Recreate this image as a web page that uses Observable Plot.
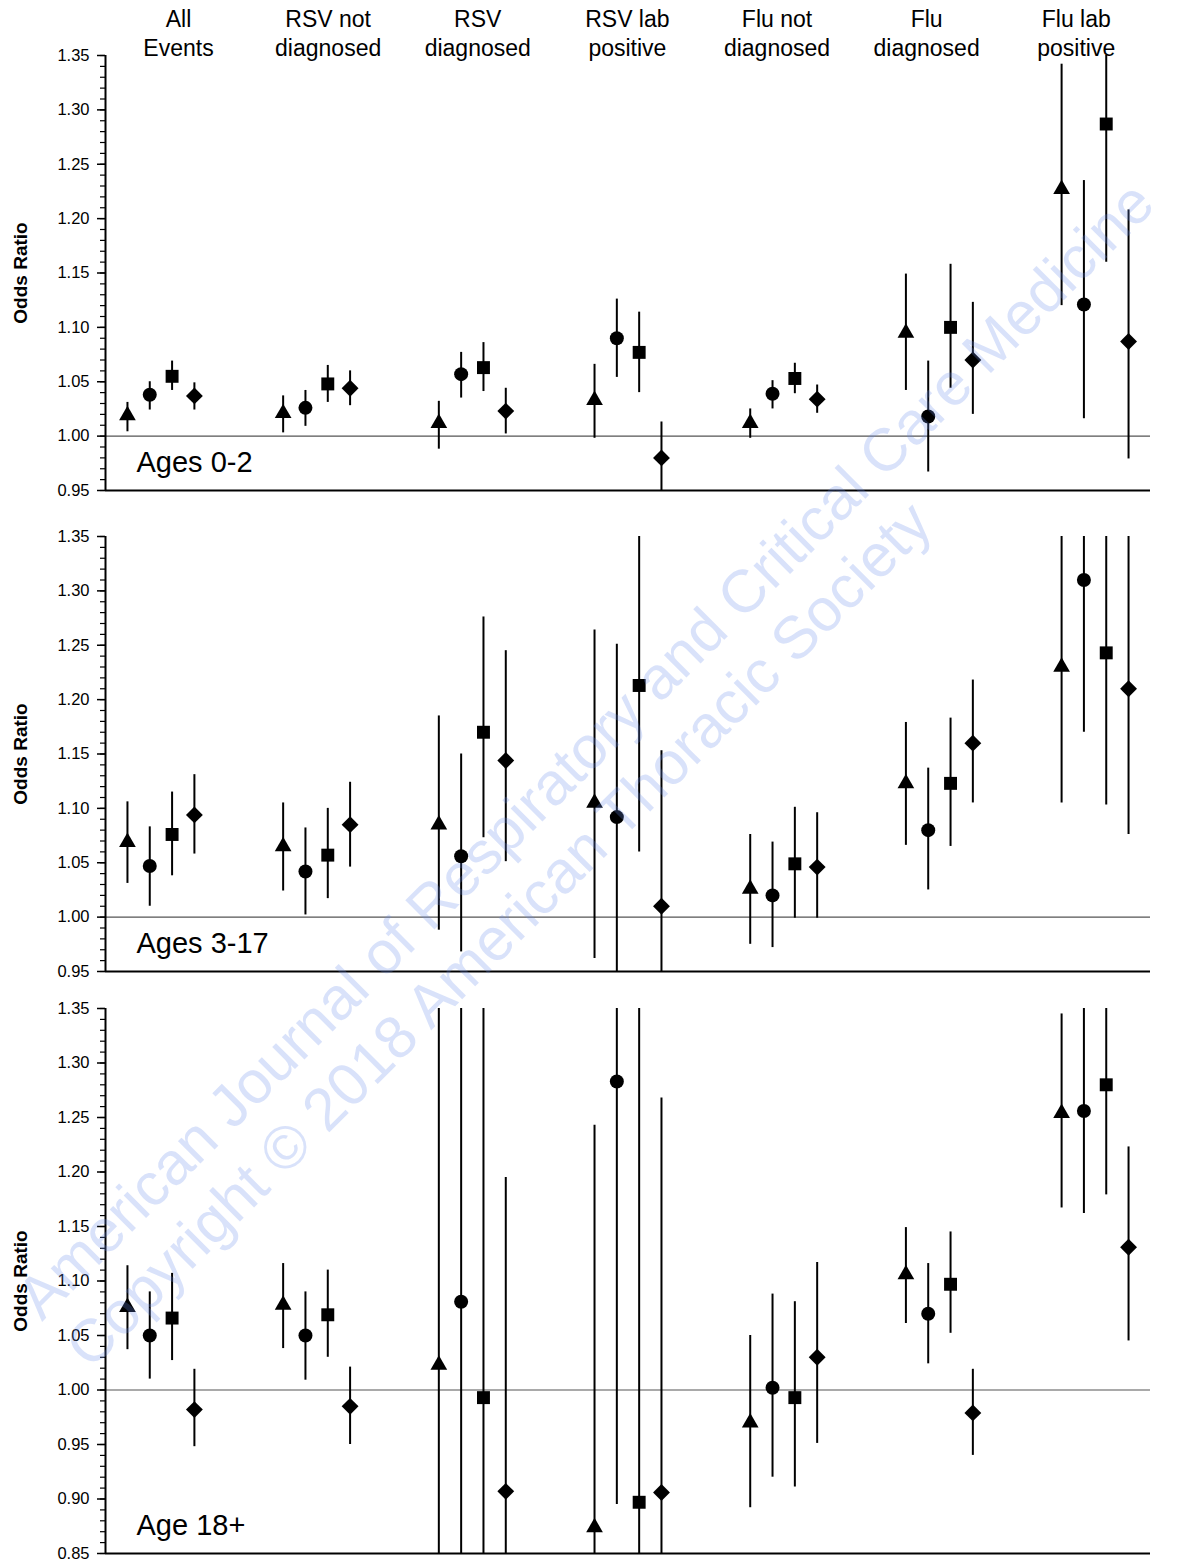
<!DOCTYPE html>
<html>
<head>
<meta charset="utf-8">
<script src="https://cdn.jsdelivr.net/npm/d3@7"></script>
<script src="https://cdn.jsdelivr.net/npm/@observablehq/plot@0.6"></script>
<style>
  html, body { margin: 0; padding: 0; background: #fff; }
  body { width: 1185px; height: 1564px; position: relative; overflow: hidden;
         font-family: "Liberation Sans", Arial, sans-serif; }
  #chart svg { display: block; }
  #wm { position: absolute; left: 0; top: 0; pointer-events: none; }
</style>
</head>
<body>
<div id="chart"></div>
<svg id="wm" width="1185" height="1564" xmlns="http://www.w3.org/2000/svg">
  <g transform="translate(42,1322) rotate(-45)" font-family="Liberation Sans, Arial, sans-serif" font-size="60" fill="rgb(105,140,237)" fill-opacity="0.25">
    <text x="0" y="0">American Journal of Respiratory and Critical Care Medicine</text>
    <text x="0" y="69">Copyright © 2018 American Thoracic Society</text>
  </g>
</svg>
<script>
// ---------- categories, labels, ticks ----------
const categories = ["All Events", "RSV not diagnosed", "RSV diagnosed", "RSV lab positive",
                    "Flu not diagnosed", "Flu diagnosed", "Flu lab positive"];
const categoryLabels = ["All\nEvents", "RSV not\ndiagnosed", "RSV\ndiagnosed", "RSV lab\npositive",
                        "Flu not\ndiagnosed", "Flu\ndiagnosed", "Flu lab\npositive"];
const seriesSymbols = ["triangle", "circle", "square", "diamond2"];
const panelLabels = ["Ages 0-2", "Ages 3-17", "Age 18+"];
const yTicksShort = [0.95, 1.00, 1.05, 1.10, 1.15, 1.20, 1.25, 1.30, 1.35];
const yTicksLong  = [0.85, 0.90, 0.95, 1.00, 1.05, 1.10, 1.15, 1.20, 1.25, 1.30, 1.35];

// ---------- values: [odds ratio, lower CI, upper CI] per category ----------
// Ages 0-2
const ages0_2_triangle = [[1.019,1.004,1.031],[1.021,1.003,1.037],[1.012,0.988,1.032],[1.033,0.998,1.066],[1.012,0.998,1.025],[1.095,1.042,1.149],[1.227,1.120,1.342]];
const ages0_2_circle   = [[1.038,1.024,1.050],[1.026,1.009,1.042],[1.057,1.035,1.077],[1.090,1.054,1.126],[1.039,1.025,1.051],[1.018,0.967,1.069],[1.121,1.016,1.235]];
const ages0_2_square   = [[1.055,1.042,1.069],[1.048,1.031,1.065],[1.063,1.041,1.086],[1.077,1.040,1.114],[1.053,1.039,1.067],[1.100,1.044,1.158],[1.287,1.160,1.400]];
const ages0_2_diamond  = [[1.037,1.024,1.049],[1.044,1.028,1.060],[1.023,1.002,1.044],[0.980,0.940,1.013],[1.034,1.021,1.047],[1.070,1.020,1.123],[1.087,0.979,1.208]];
// Ages 3-17
const ages3_17_triangle = [[1.069,1.031,1.106],[1.065,1.024,1.105],[1.085,0.988,1.185],[1.105,0.962,1.264],[1.026,0.975,1.076],[1.123,1.066,1.179],[1.230,1.105,1.400]];
const ages3_17_circle   = [[1.047,1.010,1.083],[1.042,1.002,1.082],[1.056,0.968,1.150],[1.092,0.940,1.251],[1.020,0.972,1.069],[1.080,1.025,1.137],[1.310,1.170,1.400]];
const ages3_17_square   = [[1.076,1.038,1.115],[1.057,1.017,1.100],[1.170,1.073,1.276],[1.213,1.060,1.400],[1.049,0.999,1.101],[1.123,1.065,1.183],[1.243,1.103,1.400]];
const ages3_17_diamond  = [[1.094,1.058,1.131],[1.085,1.046,1.124],[1.144,1.051,1.245],[1.010,0.940,1.153],[1.046,0.999,1.096],[1.160,1.105,1.218],[1.210,1.076,1.400]];
// Age 18+
const age18_triangle = [[1.076,1.037,1.114],[1.078,1.038,1.116],[1.023,0.800,1.400],[0.874,0.800,1.243],[0.970,0.892,1.050],[1.106,1.061,1.149],[1.254,1.167,1.345]];
const age18_circle   = [[1.050,1.010,1.090],[1.050,1.009,1.090],[1.081,0.800,1.400],[1.283,0.895,1.400],[1.002,0.920,1.088],[1.070,1.024,1.116],[1.256,1.162,1.400]];
const age18_square   = [[1.066,1.027,1.107],[1.069,1.030,1.110],[0.993,0.800,1.400],[0.897,0.800,1.400],[0.993,0.911,1.081],[1.097,1.052,1.145],[1.280,1.179,1.400]];
const age18_diamond  = [[0.982,0.948,1.019],[0.985,0.950,1.021],[0.907,0.800,1.195],[0.906,0.800,1.268],[1.030,0.951,1.117],[0.979,0.940,1.019],[1.131,1.045,1.223]];

// ---------- layout ----------
const W = 1185;
const FONT = "Liberation Sans, Arial, sans-serif";
const xDomain = [-0.356, 6.356];
const offsets = [-0.215, -0.0717, 0.0717, 0.215];
const symbolR = {triangle: 6.2, circle: 7, square: 7.3, diamond2: 7.6};

const panels = [
  {label: panelLabels[0], series: [ages0_2_triangle, ages0_2_circle, ages0_2_square, ages0_2_diamond],
   yDomain: [0.95, 1.35], ticks: yTicksShort, height: 512, mt: 55, mb: 22, top: true},
  {label: panelLabels[1], series: [ages3_17_triangle, ages3_17_circle, ages3_17_square, ages3_17_diamond],
   yDomain: [0.95, 1.35], ticks: yTicksShort, height: 479, mt: 24, mb: 20, top: false},
  {label: panelLabels[2], series: [age18_triangle, age18_circle, age18_square, age18_diamond],
   yDomain: [0.85, 1.35], ticks: yTicksLong, height: 573, mt: 17, mb: 11, top: false}
];

const container = document.getElementById("chart");

for (const p of panels) {
  const rows = [];
  p.series.forEach((vals, j) => {
    vals.forEach((v, i) => {
      rows.push({category: categories[i], symbol: seriesSymbols[j], x: i + offsets[j], est: v[0], lo: v[1], hi: v[2]});
    });
  });
  const lo = Math.round(p.yDomain[0] * 100), hi = Math.round(p.yDomain[1] * 100);
  const minor = d3.range(lo, hi + 1, 1).map(d => d / 100);

  const marks = [
    Plot.axisY(minor, {tickSize: 5, tickFormat: () => "", strokeWidth: 1.2, label: null}),
    Plot.axisY(p.ticks, {tickSize: 8, tickPadding: 8, tickFormat: d3.format(".2f"), fontSize: 16.5, strokeWidth: 1.5, label: null}),
    Plot.ruleY([1], {stroke: "#555", strokeWidth: 1.1}),
    Plot.ruleX([xDomain[0]], {stroke: "black", strokeWidth: 2}),
    Plot.ruleY([p.yDomain[0]], {stroke: "black", strokeWidth: 2}),
    Plot.ruleX(rows, {x: "x", y1: "lo", y2: "hi", stroke: "black", strokeWidth: 2, clip: true}),
    ...seriesSymbols.map(s => Plot.dot(rows.filter(d => d.symbol === s),
        {x: "x", y: "est", symbol: s, r: symbolR[s], fill: "black", stroke: "none"})),
    Plot.text([p.label], {frameAnchor: "bottom-left", dx: 31, dy: -19, textAnchor: "start",
        lineAnchor: "bottom", fontSize: 29, fill: "black"}),
    Plot.text(["Odds Ratio"], {frameAnchor: "left", dx: -85, rotate: -90, textAnchor: "middle",
        lineAnchor: "middle", fontWeight: "bold", fontSize: 19, fill: "black"})
  ];
  if (p.top) {
    marks.push(Plot.text(categoryLabels, {x: (d, i) => i * 0.961 + 0.113, frameAnchor: "top",
        lineAnchor: "bottom", dy: 0, fontSize: 23, lineHeight: 1.22, fill: "black"}));
  }

  const chart = Plot.plot({
    width: W,
    height: p.height,
    marginLeft: 105,
    marginRight: 35,
    marginTop: p.mt,
    marginBottom: p.mb,
    style: {fontFamily: FONT, fontSize: "16px", color: "black", background: "transparent", overflow: "visible"},
    x: {domain: xDomain, axis: null},
    y: {domain: p.yDomain, label: null},
    marks
  });
  container.appendChild(chart);
}
</script>
</body>
</html>
